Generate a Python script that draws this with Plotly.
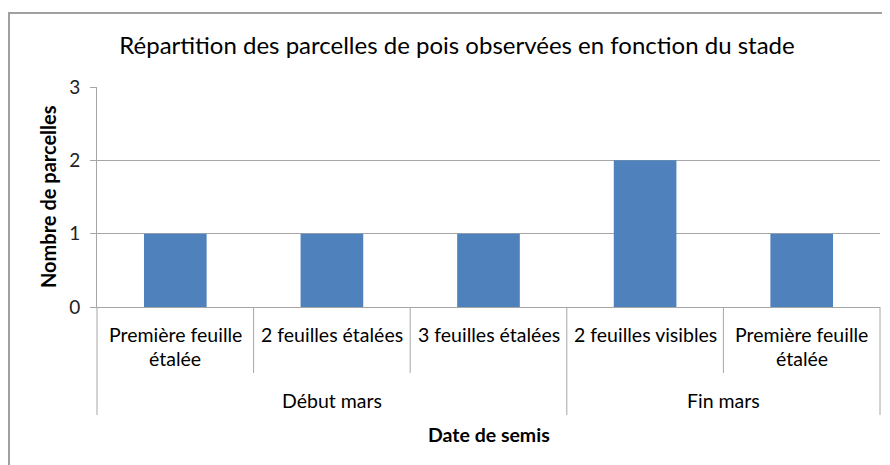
import plotly.graph_objects as go

# ---- data ----
groups = ["Début mars", "Début mars", "Début mars", "Fin mars", "Fin mars"]
stages = ["Première feuille\nétalée", "2 feuilles étalées", "3 feuilles étalées",
          "2 feuilles visibles", "Première feuille\nétalée"]
counts = [1, 1, 1, 2, 1]
y_ticks = [0, 1, 2, 3]
title = "Répartition des parcelles de pois observées en fonction du stade"
x_title = "Date de semis"
y_title = "Nombre de parcelles"

# ---- layout constants (page pixels; the page body has an 8px margin) ----
OFF = 8
PAGE_W, PAGE_H = 890, 465
W, H = PAGE_W - OFF, PAGE_H - OFF
PL, PR, PT, PB = 97, 880, 87, 307          # plot area in page pixels
L, R, T, B = PL - OFF, PAGE_W - PR, PT - OFF, PAGE_H - PB
PW, PH = PR - PL, PB - PT
FONT = "Lato, 'Liberation Sans', Arial, sans-serif"
GRID = "#A6A6A6"
BAR = "#4F81BD"
TXT = "#000000"


def py(Y):  # page row -> paper y
    return (PB - Y) / PH


def px(X):  # page column -> paper x
    return (X - PL) / PW


n = len(stages)
xs = list(range(n))

fig = go.Figure(go.Bar(x=xs, y=counts, width=0.4, marker=dict(color=BAR, line=dict(width=0)),
                       hoverinfo="skip"))

annotations = []
# level-1 labels
for i, lab in enumerate(stages):
    lines = lab.split("\n")
    for k, line in enumerate(lines):
        annotations.append(dict(x=i, xref="x", y=py(334 + 24.5 * k), yref="paper",
                                text=line, showarrow=False, xanchor="center", yanchor="middle",
                                font=dict(family=FONT, size=19.5, color=TXT)))
# level-2 labels
seen = []
for g in groups:
    if g not in seen:
        seen.append(g)
for g in seen:
    idx = [i for i, gg in enumerate(groups) if gg == g]
    annotations.append(dict(x=sum(idx) / len(idx), xref="x", y=py(400), yref="paper",
                            text=g, showarrow=False, xanchor="center", yanchor="middle",
                            font=dict(family=FONT, size=19.5, color=TXT)))
# axis titles
annotations.append(dict(x=px(489), xref="paper", y=py(434), yref="paper", text="<b>%s</b>" % x_title,
                        showarrow=False, xanchor="center", yanchor="middle",
                        font=dict(family=FONT, size=19.5, color=TXT)))
annotations.append(dict(x=px(48), xref="paper", y=py(197), yref="paper", text="<b>%s</b>" % y_title,
                        showarrow=False, xanchor="center", yanchor="middle", textangle=-90,
                        font=dict(family=FONT, size=20, color=TXT)))

shapes = []
# category dividers
for b in range(n + 1):
    long_ = b == 0 or b == n or groups[b - 1] != groups[b]
    shapes.append(dict(type="line", xref="x domain", yref="paper", x0=b / n, x1=b / n,
                       y0=0, y1=py(415 if long_ else 373),
                       line=dict(color=GRID, width=1)))
# outer chart frame
shapes.append(dict(type="line", xref="paper", yref="paper", x0=px(8), x1=px(892),
                   y0=py(13), y1=py(13), line=dict(color="#A0A0A0", width=2)))
shapes.append(dict(type="line", xref="paper", yref="paper", x0=px(9), x1=px(9),
                   y0=py(13), y1=py(470), line=dict(color="#A0A0A0", width=2)))

fig.update_layout(
    width=W, height=H,
    margin=dict(l=L, r=R, t=T, b=B),
    paper_bgcolor="white", plot_bgcolor="white",
    showlegend=False,
    title=dict(text=title, x=(457 - OFF) / W, xanchor="center", y=1 - (46 - OFF) / H,
               yanchor="middle", font=dict(family=FONT, size=24, color=TXT)),
    xaxis=dict(range=[-0.5, n - 0.5], showticklabels=False, ticks="", showgrid=False,
               showline=True, linecolor=GRID, linewidth=1, zeroline=False, fixedrange=True),
    yaxis=dict(range=[0, 3], tickvals=y_ticks, showgrid=True, gridcolor=GRID, gridwidth=1,
               showline=True, linecolor=GRID, linewidth=1, ticks="outside", ticklen=6,
               tickcolor=GRID, zeroline=False, tickfont=dict(family=FONT, size=19, color="#222"),
               ticklabelstandoff=6, fixedrange=True),
    annotations=annotations,
    shapes=shapes,
    bargap=0.6,
)

fig.write_html("out.html")
